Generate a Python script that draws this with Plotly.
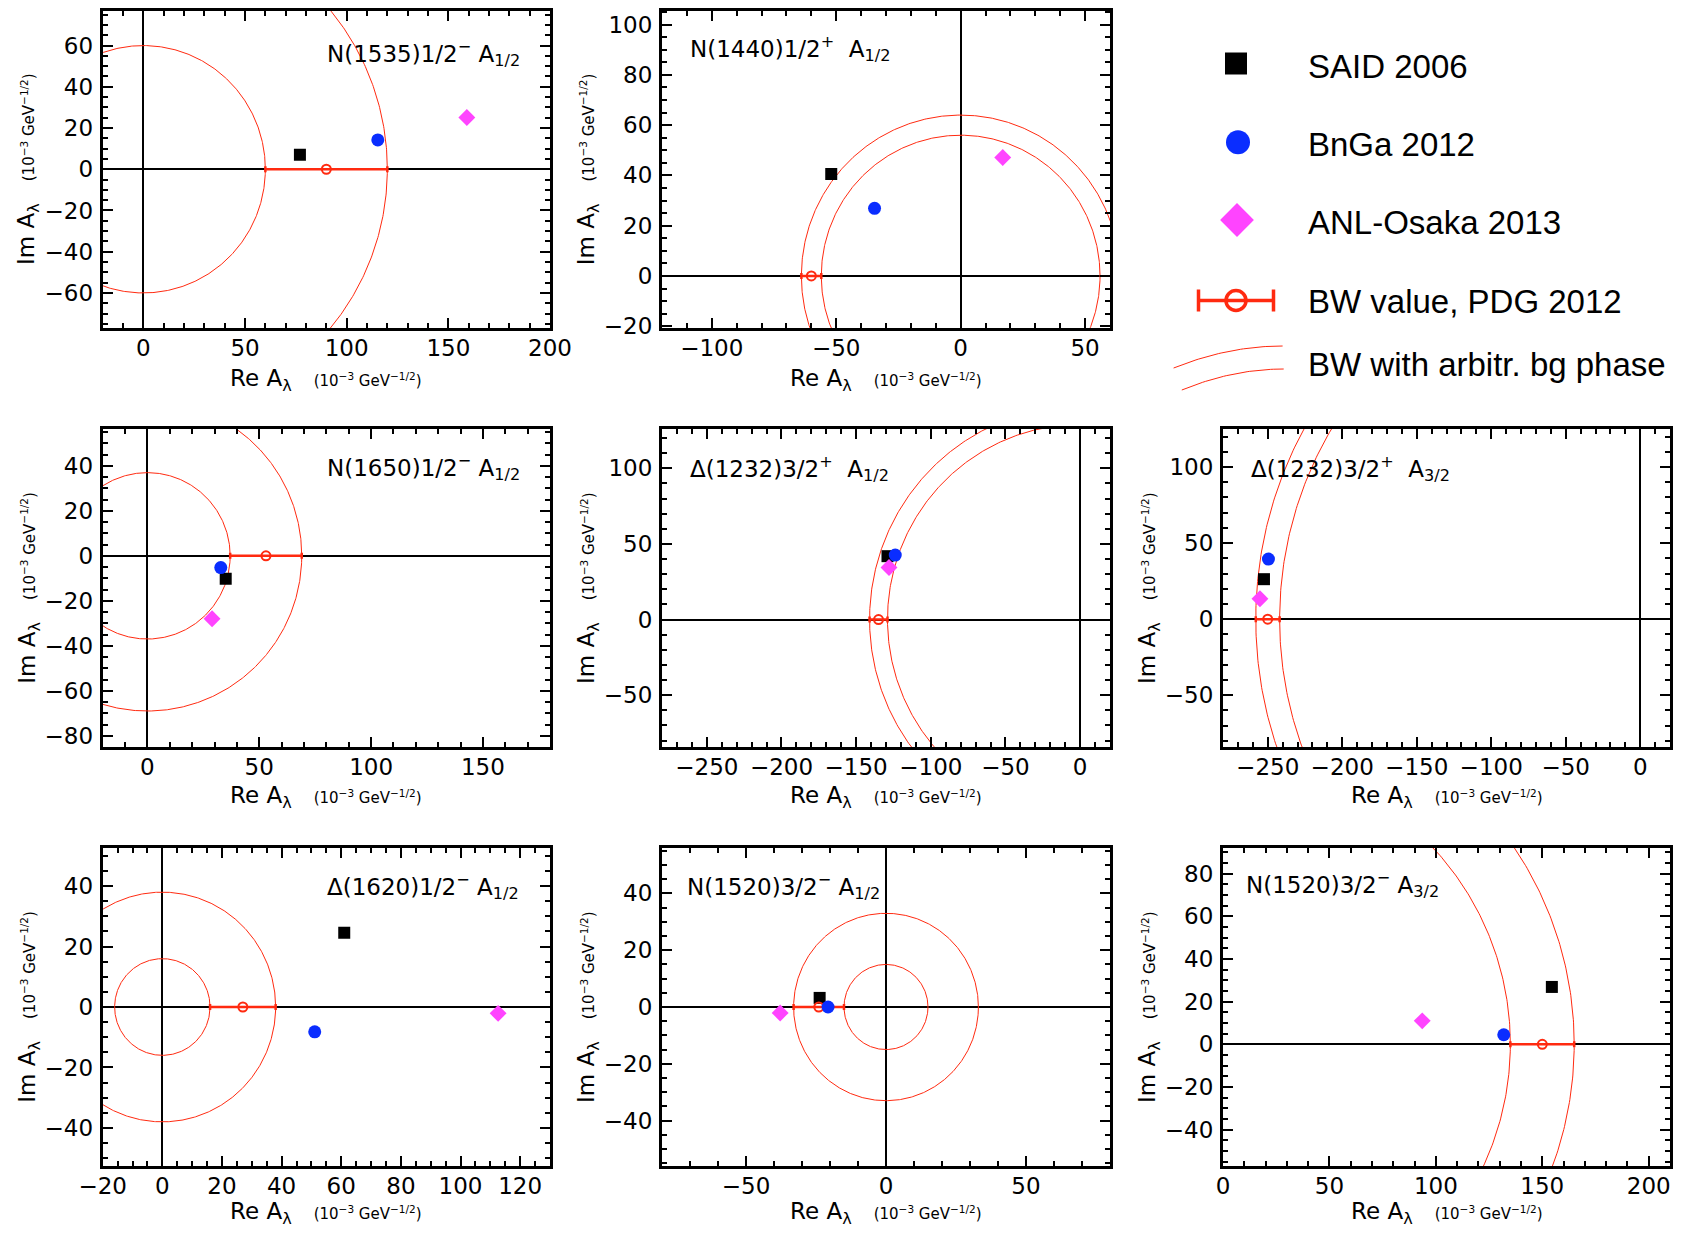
import numpy as np
import plotly.graph_objects as go

# page body has an 8px margin, so the figure is drawn 8px in from the window edge
OFF = 8
W, H = 1681 - 2 * OFF, 1239 - 2 * OFF

# ---------------- data ----------------
titles = [
    "N(1535)1/2<sup>−</sup> A<sub>1/2</sub>",
    "N(1440)1/2<sup>+</sup>  A<sub>1/2</sub>",
    "N(1650)1/2<sup>−</sup> A<sub>1/2</sub>",
    "Δ(1232)3/2<sup>+</sup>  A<sub>1/2</sub>",
    "Δ(1232)3/2<sup>+</sup>  A<sub>3/2</sub>",
    "Δ(1620)1/2<sup>−</sup> A<sub>1/2</sub>",
    "N(1520)3/2<sup>−</sup> A<sub>1/2</sub>",
    "N(1520)3/2<sup>−</sup> A<sub>3/2</sub>",
]
said_re = [77.0, -52.0, 35.0, -129.0, -252.5, 61.0, -23.7, 154.5]
said_im = [7.0, 40.6, -10.2, 41.9, 26.3, 24.6, 3.2, 26.9]
bnga_re = [115.3, -34.6, 32.8, -123.8, -249.5, 51.1, -20.7, 131.9]
bnga_im = [14.2, 26.9, -5.2, 42.6, 39.5, -8.2, 0.0, 4.5]
anl_re = [159.1, 16.9, 28.9, -128.0, -255.2, 112.6, -37.8, 93.6]
anl_im = [25.1, 47.1, -28.0, 34.4, 13.4, -2.1, -2.1, 11.0]
bw_val = [90, -60, 53, -135, -250, 27, -24, 150]
bw_err = [30, 4, 16, 6, 8, 11, 9, 15]

legend_labels = ["SAID 2006", "BnGa 2012", "ANL-Osaka 2013",
                 "BW value, PDG 2012", "BW with arbitr. bg phase"]

# ---------------- styling / layout ----------------
RED = "#ff2a10"
BLUE = "#0a2dff"
MAG = "#ff44ff"
FONT = "DejaVu Sans"

cols_px = [(102.7, 550), (662, 1110), (1223, 1670)]
rows_px = [(10.5, 328), (429, 747), (848, 1166)]
cells = [(0, 0), (0, 1), (1, 0), (1, 1), (1, 2), (2, 0), (2, 1), (2, 2)]
xranges = [[-20, 200], [-120, 60], [-20, 180], [-280, 20], [-280, 20],
           [-20, 130], [-80, 80], [0, 210]]
yranges = [[-77, 77], [-20.7, 105.6], [-85, 56.4], [-84.3, 126], [-84, 125],
           [-52.6, 52.6], [-56, 56], [-57, 92]]
xdt = [50, 50, 50, 50, 50, 20, 50, 50]
xmn = [10, 10, 10, 10, 10, 5, 10, 10]
ydt = [20, 20, 20, 50, 50, 20, 20, 20]
ymn = [5, 5, 5, 10, 10, 5, 5, 5]
title_pos = [(325, 53), (688, 49), (325, 468), (688, 469), (1249, 469),
             (325, 887), (685, 886), (1244, 884)]
xtitle_gap = [52, 50, 47]


def px_x(p):
    return (p - OFF) / W


def px_y(p):
    return 1 - (p - OFF) / H


fig = go.Figure()
layout = dict(
    width=W, height=H, margin=dict(l=0, r=0, t=0, b=0, autoexpand=False),
    paper_bgcolor="white", plot_bgcolor="white", showlegend=False,
    font=dict(family=FONT, color="black"),
)
annotations = []

theta = np.linspace(0, 2 * np.pi, 721)
small = "<span style='font-size:15px'>(10<sup>−3</sup> GeV<sup>−1/2</sup>)</span>"

for i in range(8):
    r, c = cells[i]
    n = "" if i == 0 else str(i + 1)
    xa, ya = "x" + n, "y" + n
    x0, x1 = cols_px[c]
    y0, y1 = rows_px[r]
    common = dict(
        showline=True, linecolor="black", linewidth=3, mirror="allticks",
        ticks="inside", ticklen=10, tickwidth=2, tickcolor="black",
        showgrid=False, zeroline=True, zerolinecolor="black", zerolinewidth=2,
        tickfont=dict(size=23, family=FONT, color="black"), tick0=0,
        fixedrange=True, automargin=False,
    )
    layout["xaxis" + n] = dict(
        common, domain=[px_x(x0), px_x(x1)], range=xranges[i], dtick=xdt[i],
        anchor=ya, ticklabelstandoff=-3,
        minor=dict(ticks="inside", ticklen=5, tickwidth=1.5, tickcolor="black",
                   dtick=xmn[i], tick0=0, showgrid=False),
    )
    layout["yaxis" + n] = dict(
        common, domain=[px_y(y1), px_y(y0)], range=yranges[i], dtick=ydt[i],
        anchor=xa, ticklabelstandoff=2,
        minor=dict(ticks="inside", ticklen=5, tickwidth=1.5, tickcolor="black",
                   dtick=ymn[i], tick0=0, showgrid=False),
    )
    # BW circles (radius = |BW| -/+ error)
    for rad in (abs(bw_val[i]) - bw_err[i], abs(bw_val[i]) + bw_err[i]):
        fig.add_trace(go.Scatter(
            x=rad * np.cos(theta), y=rad * np.sin(theta), mode="lines",
            line=dict(color=RED, width=1), xaxis=xa, yaxis=ya, hoverinfo="skip"))
    fig.add_trace(go.Scatter(
        x=[said_re[i]], y=[said_im[i]], mode="markers", xaxis=xa, yaxis=ya,
        marker=dict(symbol="square", size=12, color="black")))
    fig.add_trace(go.Scatter(
        x=[bw_val[i]], y=[0], mode="markers", xaxis=xa, yaxis=ya,
        error_x=dict(type="data", array=[bw_err[i]], color=RED, thickness=2.5, width=3),
        marker=dict(symbol="circle-open", size=9, color=RED, line=dict(width=2, color=RED))))
    fig.add_trace(go.Scatter(
        x=[bnga_re[i]], y=[bnga_im[i]], mode="markers", xaxis=xa, yaxis=ya,
        marker=dict(symbol="circle", size=13, color=BLUE)))
    fig.add_trace(go.Scatter(
        x=[anl_re[i]], y=[anl_im[i]], mode="markers", xaxis=xa, yaxis=ya,
        marker=dict(symbol="diamond", size=13, color=MAG)))

    # panel title
    tx, ty = title_pos[i]
    annotations.append(dict(
        text=titles[i], xref="paper", yref="paper", x=px_x(tx), y=px_y(ty),
        xanchor="left", yanchor="middle", showarrow=False,
        font=dict(size=23, family=FONT, color="black")))
    # axis titles
    annotations.append(dict(
        text="Re A<sub>λ</sub>\u00a0\u00a0\u00a0" + small, xref="paper", yref="paper",
        x=px_x((x0 + x1) / 2), y=px_y(y1 + xtitle_gap[r]), xanchor="center",
        yanchor="middle", showarrow=False,
        font=dict(size=23, family=FONT, color="black")))
    annotations.append(dict(
        text="Im A<sub>λ</sub>\u00a0\u00a0\u00a0" + small, xref="paper", yref="paper",
        x=px_x(x0 - 74), y=px_y((y0 + y1) / 2), xanchor="center", yanchor="middle",
        textangle=-90, showarrow=False, font=dict(size=23, family=FONT, color="black")))

# ---------------- legend (drawn in a hidden pixel-unit axis) ----------------
LX0, LX1, LY0, LY1 = 1110, 1673, 8, 400
layout["xaxis9"] = dict(domain=[px_x(LX0), px_x(LX1)], range=[LX0, LX1], visible=False,
                        anchor="y9", fixedrange=True, automargin=False)
layout["yaxis9"] = dict(domain=[px_y(LY1), px_y(LY0)], range=[LY1, LY0], visible=False,
                        anchor="x9", fixedrange=True, automargin=False)
sym_y = [63.5, 142.3, 220, 300.5]
text_y = [63.8, 142, 219.8, 298.7, 361]
fig.add_trace(go.Scatter(x=[1236], y=[sym_y[0]], mode="markers", xaxis="x9", yaxis="y9",
                         marker=dict(symbol="square", size=22, color="black")))
fig.add_trace(go.Scatter(x=[1238], y=[sym_y[1]], mode="markers", xaxis="x9", yaxis="y9",
                         marker=dict(symbol="circle", size=24, color=BLUE)))
fig.add_trace(go.Scatter(x=[1237], y=[sym_y[2]], mode="markers", xaxis="x9", yaxis="y9",
                         marker=dict(symbol="diamond", size=26, color=MAG)))
fig.add_trace(go.Scatter(x=[1236], y=[sym_y[3]], mode="markers", xaxis="x9", yaxis="y9",
                         error_x=dict(type="data", array=[37.5], color=RED, thickness=3.5, width=11),
                         marker=dict(symbol="circle-open", size=20, color=RED,
                                     line=dict(width=3.5, color=RED))))
t = np.linspace(0, 1, 40)
for xs, xe, ys, rise in ((1173.6, 1282.6, 368, 22), (1181.8, 1283.7, 390, 21)):
    fig.add_trace(go.Scatter(x=xs + (xe - xs) * t, y=ys - rise * (2 * t - t * t),
                             mode="lines", xaxis="x9", yaxis="y9",
                             line=dict(color=RED, width=1)))
for lab, yy in zip(legend_labels, text_y):
    annotations.append(dict(
        text=lab, xref="paper", yref="paper", x=px_x(1306), y=px_y(yy + 3),
        xanchor="left", yanchor="middle", showarrow=False,
        font=dict(size=33, family="Liberation Sans", color="black")))

layout["annotations"] = annotations
fig.update_layout(**layout)
fig.write_html("out.html")
